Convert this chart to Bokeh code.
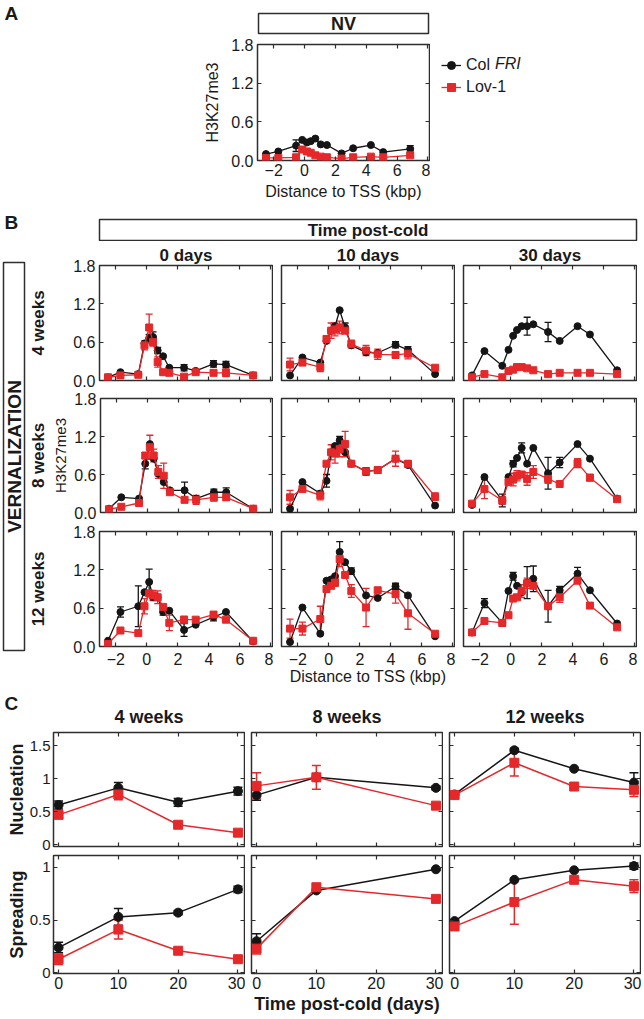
import math
from bokeh.plotting import figure
from bokeh.models import (ColumnDataSource, Range1d, LinearAxis, FixedTicker, Label,
                          BoxAnnotation, Whisker, TeeHead, Legend, LegendItem,
                          CustomJSTickFormatter, Spacer)
from bokeh.layouts import row, column
from bokeh.embed import file_html
from bokeh.resources import INLINE

# ---------------- data ----------------
PROBES = [-2.5, -1.7, -0.55, -0.15, 0.15, 0.4, 0.7, 1.05, 1.45, 2.4, 3.15, 4.3, 5.1, 6.85]
DIST_TICKS = [-2, 0, 2, 4, 6, 8]
H3_TICKS = [0.0, 0.6, 1.2, 1.8]

# Panel A, non-vernalized
NV_col = [0.10, 0.14, 0.23, 0.32, 0.28, 0.30, 0.34, 0.25, 0.24, 0.11, 0.19, 0.24, 0.13, 0.18]
NV_col_err = [0, 0, 0.09, 0, 0, 0, 0, 0, 0, 0, 0, 0, 0, 0.05]
NV_lov = [0.04, 0.04, 0.05, 0.17, 0.14, 0.12, 0.08, 0.06, 0.05, 0.03, 0.05, 0.06, 0.05, 0.08]
NV_lov_err = [0, 0, 0, 0.03, 0, 0, 0, 0, 0, 0, 0, 0, 0, 0.03]

# Panel B: 4 weeks vernalization
B4_0_col = [0.05, 0.13, 0.10, 0.58, 0.66, 0.68, 0.47, 0.38, 0.20, 0.20, 0.15, 0.26, 0.25, 0.08]
B4_0_col_err = [0, 0, 0, 0, 0.06, 0.08, 0.05, 0, 0, 0.05, 0, 0.05, 0.05, 0]
B4_0_lov = [0.05, 0.08, 0.09, 0.55, 0.83, 0.60, 0.29, 0.13, 0.12, 0.06, 0.13, 0.12, 0.12, 0.08]
B4_0_lov_err = [0, 0, 0, 0.07, 0.21, 0.06, 0.08, 0, 0, 0, 0, 0, 0.06, 0]
B4_10_col = [0.08, 0.36, 0.28, 0.62, 0.78, 0.85, 1.10, 0.83, 0.55, 0.44, 0.43, 0.56, 0.48, 0.10]
B4_10_col_err = [0, 0, 0, 0, 0, 0, 0, 0.07, 0, 0, 0, 0.05, 0.05, 0]
B4_10_lov = [0.25, 0.28, 0.21, 0.65, 0.78, 0.80, 0.83, 0.78, 0.57, 0.47, 0.41, 0.40, 0.42, 0.20]
B4_10_lov_err = [0.10, 0, 0.07, 0, 0.12, 0.10, 0.10, 0, 0.06, 0.08, 0.08, 0.05, 0.08, 0]
B4_30_col = [0.08, 0.46, 0.23, 0.48, 0.70, 0.79, 0.85, 0.85, 0.88, 0.76, 0.62, 0.85, 0.72, 0.16]
B4_30_col_err = [0, 0, 0, 0, 0, 0, 0, 0.14, 0, 0.15, 0, 0, 0, 0]
B4_30_lov = [0.05, 0.10, 0.05, 0.15, 0.17, 0.21, 0.21, 0.19, 0.16, 0.10, 0.12, 0.12, 0.12, 0.10]
B4_30_lov_err = [0, 0, 0, 0, 0, 0, 0, 0, 0, 0, 0, 0, 0, 0]

# Panel B: 8 weeks vernalization
B8_0_col = [0.06, 0.24, 0.22, 0.77, 1.08, 0.85, 0.61, 0.48, 0.35, 0.35, 0.22, 0.32, 0.32, 0.06]
B8_0_col_err = [0, 0, 0, 0.08, 0, 0, 0, 0, 0, 0.13, 0, 0.05, 0.07, 0]
B8_0_lov = [0.05, 0.09, 0.15, 0.90, 1.03, 0.90, 0.64, 0.58, 0.32, 0.20, 0.20, 0.24, 0.24, 0.06]
B8_0_lov_err = [0, 0, 0, 0, 0.19, 0.10, 0.10, 0.20, 0, 0, 0.07, 0.06, 0.05, 0]
B8_10_col = [0.06, 0.48, 0.30, 0.50, 0.95, 1.05, 1.14, 0.95, 0.77, 0.65, 0.67, 0.85, 0.75, 0.11]
B8_10_col_err = [0, 0, 0, 0.10, 0, 0, 0.06, 0, 0, 0.06, 0.05, 0, 0, 0]
B8_10_lov = [0.24, 0.37, 0.27, 0.77, 0.95, 0.93, 1.00, 1.08, 0.77, 0.65, 0.67, 0.85, 0.77, 0.25]
B8_10_lov_err = [0.11, 0, 0.07, 0, 0.12, 0.15, 0.12, 0.20, 0, 0, 0.05, 0.12, 0.05, 0.06]
B8_30_col = [0.12, 0.56, 0.19, 0.56, 0.77, 0.86, 1.02, 0.77, 1.02, 0.62, 0.79, 1.08, 0.85, 0.22]
B8_30_col_err = [0, 0, 0.10, 0, 0.05, 0, 0.08, 0, 0, 0.25, 0.08, 0, 0, 0]
B8_30_lov = [0.14, 0.37, 0.19, 0.48, 0.52, 0.58, 0.60, 0.53, 0.64, 0.53, 0.45, 0.78, 0.55, 0.21]
B8_30_lov_err = [0, 0.15, 0.06, 0, 0.10, 0.08, 0, 0.10, 0.10, 0.07, 0, 0.07, 0.05, 0]

# Panel B: 12 weeks vernalization
B12_0_col = [0.09, 0.54, 0.63, 0.85, 1.01, 0.77, 0.77, 0.54, 0.56, 0.26, 0.34, 0.46, 0.54, 0.08]
B12_0_col_err = [0, 0.08, 0.32, 0, 0.20, 0, 0, 0.05, 0, 0.10, 0, 0.06, 0, 0]
B12_0_lov = [0.04, 0.25, 0.21, 0.63, 0.83, 0.80, 0.77, 0.62, 0.37, 0.42, 0.42, 0.50, 0.42, 0.09]
B12_0_lov_err = [0, 0, 0, 0.12, 0, 0.08, 0.10, 0, 0.12, 0.05, 0, 0.03, 0, 0]
B12_10_col = [0.07, 0.61, 0.20, 1.03, 1.05, 1.10, 1.48, 1.32, 1.18, 0.80, 0.76, 0.94, 0.80, 0.16]
B12_10_col_err = [0, 0, 0, 0, 0, 0, 0.16, 0, 0.05, 0, 0, 0.05, 0, 0]
B12_10_lov = [0.28, 0.28, 0.43, 0.90, 0.95, 1.00, 1.37, 1.12, 0.87, 0.61, 0.88, 0.82, 0.52, 0.20]
B12_10_lov_err = [0.15, 0.10, 0.20, 0, 0, 0.06, 0.12, 0, 0.10, 0.30, 0, 0.14, 0.25, 0]
B12_30_col = [0.22, 0.68, 0.37, 0.87, 1.10, 0.95, 0.85, 1.00, 1.06, 0.63, 0.88, 1.14, 0.88, 0.36]
B12_30_col_err = [0, 0.07, 0.05, 0, 0.06, 0, 0, 0.25, 0.20, 0.25, 0.06, 0.10, 0, 0]
B12_30_lov = [0.22, 0.40, 0.37, 0.49, 0.75, 0.77, 0.87, 0.99, 0.95, 0.63, 0.77, 1.03, 0.64, 0.30]
B12_30_lov_err = [0, 0, 0.05, 0, 0, 0, 0.10, 0.08, 0, 0, 0.08, 0, 0, 0]

B_ROW_LABELS = ["4 weeks", "8 weeks", "12 weeks"]
B_COL_LABELS = ["0 days", "10 days", "30 days"]

# Panel C
C_WEEKS = ["4 weeks", "8 weeks", "12 weeks"]
C_DAY_TICKS = [0, 10, 20, 30]
C_days_4w = [0, 10, 20, 30]
C_days_8w = [0, 10, 30]
C_days_12w = [0, 10, 20, 30]

NUC_4w_col = [0.60, 0.86, 0.64, 0.81]
NUC_4w_col_err = [0.06, 0.08, 0.06, 0.06]
NUC_4w_lov = [0.45, 0.76, 0.30, 0.18]
NUC_4w_lov_err = [0.04, 0.08, 0.02, 0.02]
NUC_8w_col = [0.75, 1.02, 0.86]
NUC_8w_col_err = [0.08, 0.0, 0.03]
NUC_8w_lov = [0.89, 1.02, 0.59]
NUC_8w_lov_err = [0.20, 0.18, 0.03]
NUC_12w_col = [0.76, 1.43, 1.15, 0.94]
NUC_12w_col_err = [0.04, 0.03, 0.0, 0.15]
NUC_12w_lov = [0.75, 1.24, 0.88, 0.83]
NUC_12w_lov_err = [0.04, 0.20, 0.02, 0.10]

SPR_4w_col = [0.24, 0.53, 0.57, 0.79]
SPR_4w_col_err = [0.05, 0.08, 0.02, 0.03]
SPR_4w_lov = [0.13, 0.41, 0.21, 0.13]
SPR_4w_lov_err = [0.05, 0.09, 0.01, 0.01]
SPR_8w_col = [0.30, 0.78, 0.98]
SPR_8w_col_err = [0.07, 0.0, 0.01]
SPR_8w_lov = [0.23, 0.81, 0.70]
SPR_8w_lov_err = [0.05, 0.02, 0.02]
SPR_12w_col = [0.49, 0.88, 0.97, 1.01]
SPR_12w_col_err = [0.01, 0.0, 0.0, 0.03]
SPR_12w_lov = [0.44, 0.67, 0.88, 0.82]
SPR_12w_lov_err = [0.01, 0.21, 0.0, 0.06]

# ---------------- style ----------------
FONT = "Liberation Sans"
INK = "#1a1a1a"
FRAME = "#2e2e2e"
BLACK = "#151515"
RED = "#e5282a"
ONE_DEC = CustomJSTickFormatter(code="return tick.toFixed(1)")
PLAIN = CustomJSTickFormatter(code="return String(tick)")


def plot_fig(fw, fh, l, r, t, b, xr, yr, title=None):
    p = figure(width=l + fw + r, height=t + fh + b,
               x_range=Range1d(*xr), y_range=Range1d(*yr),
               x_axis_type=None, y_axis_type=None, toolbar_location=None,
               output_backend="svg", title=title,
               min_border_left=l, min_border_right=r,
               min_border_top=t, min_border_bottom=b)
    p.outline_line_color = FRAME
    p.outline_line_width = 1.5
    p.background_fill_color = "white"
    p.border_fill_color = "white"
    return p


def add_axis(p, side, ticks, show=False, size=16, standoff=4, fmt=None,
             label=None, label_size=16, label_bold=False, label_standoff=0):
    ax = LinearAxis(ticker=FixedTicker(ticks=ticks, minor_ticks=[]))
    ax.axis_line_color = None
    ax.major_tick_in = 4
    ax.major_tick_out = 0
    ax.major_tick_line_color = FRAME
    ax.major_tick_line_width = 1.2
    ax.minor_tick_line_color = None
    if show:
        ax.major_label_text_font = FONT
        ax.major_label_text_font_size = f"{size}px"
        ax.major_label_text_color = INK
        ax.major_label_standoff = standoff
        if fmt is not None:
            ax.formatter = fmt
    else:
        ax.major_label_text_font_size = "0px"
        ax.major_label_text_color = None
        ax.major_label_standoff = 0
    if label:
        ax.axis_label = label
        ax.axis_label_text_font = FONT
        ax.axis_label_text_font_size = f"{label_size}px"
        ax.axis_label_text_font_style = "bold" if label_bold else "normal"
        ax.axis_label_text_color = INK
        ax.axis_label_standoff = label_standoff
    p.add_layout(ax, side)
    return ax


def series(p, xs, ys, errs, color, marker, size, lw, cap):
    keep = [i for i, e in enumerate(errs) if e > 0]
    if keep:
        es = ColumnDataSource(dict(x=[xs[i] for i in keep],
                                   lo=[ys[i] - errs[i] for i in keep],
                                   hi=[ys[i] + errs[i] for i in keep]))
        p.add_layout(Whisker(source=es, base="x", lower="lo", upper="hi",
                             line_color=color, line_width=lw,
                             upper_head=TeeHead(size=cap, line_color=color, line_width=lw),
                             lower_head=TeeHead(size=cap, line_color=color, line_width=lw)))
    src = ColumnDataSource(dict(x=xs, y=ys))
    p.line("x", "y", source=src, line_color=color, line_width=lw)
    p.scatter("x", "y", source=src, marker=marker, size=size,
              fill_color=color, line_color=color)
    return src


def tfig(w, h):
    f = figure(width=w, height=h, x_range=Range1d(0, w), y_range=Range1d(0, h),
               x_axis_type=None, y_axis_type=None, toolbar_location=None,
               output_backend="svg", min_border=0, title=None)
    f.outline_line_color = None
    f.background_fill_color = "white"
    f.border_fill_color = "white"
    return f


def txt(f, h, x, y, s, size, bold=False, italic=False, angle=0.0, align="center", off=0.0):
    style = "bold" if bold else ("italic" if italic else "normal")
    f.add_layout(Label(x=x + off, y=h - y + off, text=s, text_font=FONT,
                       text_font_size=f"{size}px", text_font_style=style, text_color=INK,
                       angle=angle, text_align=align, text_baseline="middle"))


def box(f, h, x0, y0, x1, y1):
    f.add_layout(BoxAnnotation(left=x0, right=x1, top=h - y0, bottom=h - y1,
                               fill_color=None, fill_alpha=0,
                               line_color=FRAME, line_alpha=1.0, line_width=1.5))


DIST_RANGE = (-3.05, 8.1)
H3_RANGE = (0.0, 1.8)

# ---------------- panel A ----------------
hdrA = tfig(644, 38)
txt(hdrA, 38, 4, 13, "A", 19, bold=True, align="left")
box(hdrA, 38, 258, 13, 428, 33)
txt(hdrA, 38, 343, 23, "NV", 18, bold=True)

pA = plot_fig(172, 116, 67, 1, 6, 45, DIST_RANGE, H3_RANGE)
add_axis(pA, "below", DIST_TICKS, show=True, size=16, standoff=3,
         label="Distance to TSS (kbp)", label_size=16, label_standoff=4)
add_axis(pA, "above", DIST_TICKS)
add_axis(pA, "left", H3_TICKS, show=True, size=16, standoff=4, fmt=ONE_DEC,
         label="H3K27me3", label_size=16, label_standoff=7)
add_axis(pA, "right", H3_TICKS)
src_nv_col = series(pA, PROBES, NV_col, NV_col_err, BLACK, "circle", 7, 1.3, 7)
src_nv_lov = series(pA, PROBES, NV_lov, NV_lov_err, RED, "square", 7, 1.3, 7)

# Legend panel: the legend samples come from renderers of the NV series,
# whose points fall outside this panel's (blank) ranges.
LEG_W, LEG_H, OFF = 170, 167, 100.0
legF = figure(width=LEG_W, height=LEG_H, x_range=Range1d(OFF, OFF + LEG_W),
              y_range=Range1d(OFF, OFF + LEG_H), x_axis_type=None, y_axis_type=None,
              toolbar_location=None, output_backend="svg", min_border=0, title=None)
legF.outline_line_color = None
legF.background_fill_color = "white"
legF.border_fill_color = "white"
lg1 = legF.line("x", "y", source=src_nv_col, line_color=BLACK, line_width=1.3)
mk1 = legF.scatter("x", "y", source=src_nv_col, marker="circle", size=7,
                   fill_color=BLACK, line_color=BLACK)
lg2 = legF.line("x", "y", source=src_nv_lov, line_color=RED, line_width=1.3)
mk2 = legF.scatter("x", "y", source=src_nv_lov, marker="square", size=7,
                   fill_color=RED, line_color=RED)
legA = Legend(items=[LegendItem(label="Col", renderers=[lg1, mk1]),
                     LegendItem(label="Lov-1", renderers=[lg2, mk2])],
              location="top_left", padding=0, margin=11, spacing=2,
              glyph_width=20, glyph_height=20, label_standoff=5, label_height=20,
              label_text_font=FONT, label_text_font_size="16px", label_text_color=INK,
              border_line_color=None, background_fill_alpha=0)
legF.add_layout(legA)
txt(legF, LEG_H, 64.5, 27, "FRI", 16, italic=True, align="left", off=OFF)

block_A = column(hdrA, row(Spacer(width=190, height=167), pA, legF))

# ---------------- panel B ----------------
hdrB = tfig(644, 36)
txt(hdrB, 36, 4, 17, "B", 19, bold=True, align="left")
box(hdrB, 36, 99, 14, 636, 35)
txt(hdrB, 36, 367.5, 24.5, "Time post-cold", 17, bold=True)

stripB = tfig(49, 449)
box(stripB, 449, 3, 21, 24, 409)
txt(stripB, 449, 14, 215, "VERNALIZATION", 19, bold=True, angle=math.pi / 2)
for lab, yc in zip(B_ROW_LABELS, [81.5, 214, 347.5]):
    txt(stripB, 449, 38, yc, lab, 17, bold=True, angle=math.pi / 2)

B_DATA = [
    [(B4_0_col, B4_0_col_err, B4_0_lov, B4_0_lov_err),
     (B4_10_col, B4_10_col_err, B4_10_lov, B4_10_lov_err),
     (B4_30_col, B4_30_col_err, B4_30_lov, B4_30_lov_err)],
    [(B8_0_col, B8_0_col_err, B8_0_lov, B8_0_lov_err),
     (B8_10_col, B8_10_col_err, B8_10_lov, B8_10_lov_err),
     (B8_30_col, B8_30_col_err, B8_30_lov, B8_30_lov_err)],
    [(B12_0_col, B12_0_col_err, B12_0_lov, B12_0_lov_err),
     (B12_10_col, B12_10_col_err, B12_10_lov, B12_10_lov_err),
     (B12_30_col, B12_30_col_err, B12_30_lov, B12_30_lov_err)],
]
B_FH = [115, 114, 115]
B_TOP = [24, 9, 10]
B_BOT = [9, 9, 44]
B_LEFT = [50, 8, 8]

b_rows = []
for r in range(3):
    figs = []
    for c in range(3):
        p = plot_fig(173, B_FH[r], B_LEFT[c], 1, B_TOP[r], B_BOT[r], DIST_RANGE, H3_RANGE,
                     title=B_COL_LABELS[c] if r == 0 else None)
        if r == 0:
            p.title.align = "center"
            p.title.vertical_align = "middle"
            p.title.text_font = FONT
            p.title.text_font_size = "17px"
            p.title.text_font_style = "bold"
            p.title.text_color = INK
            p.title.standoff = 0
        add_axis(p, "below", DIST_TICKS, show=(r == 2), size=16, standoff=6,
                 label="Distance to TSS (kbp)" if (r == 2 and c == 1) else None,
                 label_size=16, label_standoff=0)
        add_axis(p, "above", DIST_TICKS)
        add_axis(p, "left", H3_TICKS, show=(c == 0), size=16, standoff=4, fmt=ONE_DEC,
                 label="H3K27me3" if (r == 1 and c == 0) else None,
                 label_size=15, label_standoff=2)
        add_axis(p, "right", H3_TICKS)
        col_v, col_e, lov_v, lov_e = B_DATA[r][c]
        series(p, PROBES, col_v, col_e, BLACK, "circle", 7, 1.3, 7)
        series(p, PROBES, lov_v, lov_e, RED, "square", 7, 1.3, 7)
        figs.append(p)
    b_rows.append(row(*figs))

block_B = column(hdrB, row(stripB, column(*b_rows)))

# ---------------- panel C ----------------
hdrC = tfig(644, 36)
txt(hdrC, 36, 4, 13, "C", 19, bold=True, align="left")
for lab, xc in zip(C_WEEKS, [148.5, 346.5, 544.5]):
    txt(hdrC, 36, xc, 26, lab, 18, bold=True)

C_DAYS = [C_days_4w, C_days_8w, C_days_12w]
C_ROWS = [
    ("Nucleation", (-0.03, 1.7), [0, 0.5, 1, 1.5],
     [(NUC_4w_col, NUC_4w_col_err, NUC_4w_lov, NUC_4w_lov_err),
      (NUC_8w_col, NUC_8w_col_err, NUC_8w_lov, NUC_8w_lov_err),
      (NUC_12w_col, NUC_12w_col_err, NUC_12w_lov, NUC_12w_lov_err)]),
    ("Spreading", (-0.005, 1.11), [0, 0.5, 1],
     [(SPR_4w_col, SPR_4w_col_err, SPR_4w_lov, SPR_4w_lov_err),
      (SPR_8w_col, SPR_8w_col_err, SPR_8w_lov, SPR_8w_lov_err),
      (SPR_12w_col, SPR_12w_col_err, SPR_12w_lov, SPR_12w_lov_err)]),
]
C_FH = [114, 118]
C_TOP = [6, 2]
C_BOT = [7, 44]
C_LEFT = [53, 6, 6]
C_XRANGE = (-0.85, 31.1)

c_rows = []
for r, (ylab, yr, yt, data) in enumerate(C_ROWS):
    figs = []
    for c in range(3):
        p = plot_fig(191, C_FH[r], C_LEFT[c], 1, C_TOP[r], C_BOT[r], C_XRANGE, yr)
        add_axis(p, "below", C_DAY_TICKS, show=(r == 1), size=16, standoff=3,
                 label="Time post-cold (days)" if (r == 1 and c == 1) else None,
                 label_size=18, label_bold=True, label_standoff=2)
        add_axis(p, "above", C_DAY_TICKS)
        add_axis(p, "left", yt, show=(c == 0), size=15, standoff=3, fmt=PLAIN,
                 label=ylab if c == 0 else None, label_size=18, label_bold=True,
                 label_standoff=0)
        add_axis(p, "right", yt)
        col_v, col_e, lov_v, lov_e = data[c]
        series(p, C_DAYS[c], col_v, col_e, BLACK, "circle", 9, 1.5, 9)
        series(p, C_DAYS[c], lov_v, lov_e, RED, "square", 9, 1.5, 9)
        figs.append(p)
    c_rows.append(row(*figs))

block_C = column(hdrC, *c_rows)

page = column(block_A, block_B, block_C)

open("out.html", "w").write(file_html(page, INLINE, "H3K27me3 profiles"))
